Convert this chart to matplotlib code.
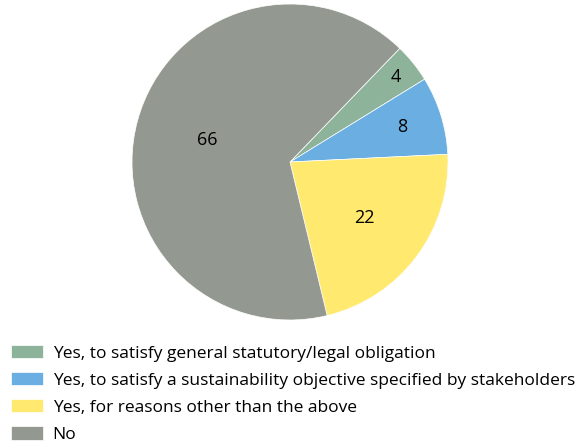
import matplotlib
matplotlib.use("Agg")
import matplotlib.pyplot as plt
import numpy as np

# data
labels = ["Yes, to satisfy general statutory/legal obligation",
          "Yes, to satisfy a sustainability objective specified by stakeholders",
          "Yes, for reasons other than the above",
          "No"]
values = [4, 8, 22, 66]
colors = ["#8DB39A", "#6AAEE2", "#FFE96E", "#939990"]
label_radius = [0.86, 0.74, 0.59, 0.54]

plt.rcParams['font.family'] = ['Open Sans', 'DejaVu Sans']

fig = plt.figure(figsize=(5.83, 4.43), dpi=100)
ax = fig.add_axes([132 / 583, 123 / 443, 316 / 583, 316 / 443])

wedges, _ = ax.pie(values, colors=colors, startangle=46, counterclock=False,
                   wedgeprops=dict(linewidth=0.5, edgecolor="white"))
ax.set_xlim(-1, 1)
ax.set_ylim(-1, 1)
ax.set_aspect("equal")

# value labels inside slices
for w, v, r in zip(wedges, values, label_radius):
    mid = np.deg2rad((w.theta1 + w.theta2) / 2)
    ax.text(r * np.cos(mid), r * np.sin(mid), str(v), ha="center", va="center",
            fontsize=13, color="black")

fig.legend(wedges, labels, loc="upper left", bbox_to_anchor=(11 / 583, 1 - 345 / 443),
           frameon=False, fontsize=12.5, handlelength=1.85, handleheight=0.8,
           handletextpad=0.55, labelspacing=0.6, borderaxespad=0, borderpad=0)

fig.savefig("out.png", dpi=100)
